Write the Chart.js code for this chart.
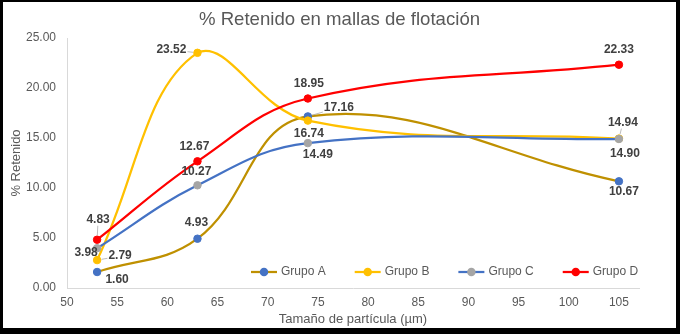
<!DOCTYPE html>
<html>
<head>
<meta charset="utf-8">
<script src="https://cdn.jsdelivr.net/npm/chart.js@4"></script>
<style>
  html, body { margin: 0; padding: 0; background: #000; }
  #marco { position: absolute; left: 3px; top: 2px; width: 673px; height: 326px; background: #fff; }
</style>
</head>
<body>
<div id="marco"><canvas id="grafico" width="673" height="326"></canvas></div>
<script>
// Datos
const tamanos = [53, 63, 74, 105];
const grupoA = [1.60, 4.93, 17.16, 10.67];
const grupoB = [2.79, 23.52, 16.74, 14.94];
const grupoC = [3.98, 10.27, 14.49, 14.90];
const grupoD = [4.83, 12.67, 18.95, 22.33];
const nombres = ['Grupo A', 'Grupo B', 'Grupo C', 'Grupo D'];
const ticksX = [50, 55, 60, 65, 70, 75, 80, 85, 90, 95, 100, 105];
const ticksY = [0, 5, 10, 15, 20, 25];

// estilos por serie (linea, marcador)
const colLinea = ['#BF9000', '#FFC000', '#4472C4', '#FF0000'];
const colMarca = ['#4472C4', '#FFC000', '#A5A5A5', '#FF0000'];

// desplazamiento de las etiquetas respecto al punto (px) y lineas guia
const despl = [
  [[20, 8], [-1, -16], [31, -9], [5, 10]],
  [[23, -4], [-26, -3], [1, 13], [4, -16]],
  [[-11, 4], [-1, -14], [10, 12], [6, 15]],
  [[1, -20], [-3, -15], [1, -15], [0, -15]]
];
const guias = [
  [0, 0, 1, 0],
  [1, 1, 0, 1],
  [0, 0, 0, 0],
  [1, 0, 0, 0]
];

const series = [grupoA, grupoB, grupoC, grupoD];
const fuente = "'Liberation Sans', Arial, sans-serif";
Chart.defaults.font.family = fuente;
Chart.defaults.color = '#595959';

const datasets = series.map((vals, i) => ({
  label: nombres[i],
  data: vals.map((v, j) => ({ x: tamanos[j], y: v })),
  borderColor: colLinea[i],
  backgroundColor: colMarca[i],
  pointBackgroundColor: colMarca[i],
  pointBorderColor: colMarca[i],
  pointBorderWidth: 1,
  pointRadius: 3.75,
  borderWidth: 2.25,
  tension: 0.4,
  fill: false,
  order: 4 - i
}));

const etiquetas = {
  id: 'etiquetas',
  afterDatasetsDraw(chart) {
    const ctx = chart.ctx;
    ctx.save();
    ctx.font = 'bold 12px ' + fuente;
    ctx.textAlign = 'center';
    ctx.textBaseline = 'middle';
    series.forEach((vals, i) => {
      const meta = chart.getDatasetMeta(i);
      meta.data.forEach((pt, j) => {
        const txt = vals[j].toFixed(2);
        const lx = pt.x + despl[i][j][0];
        const ly = pt.y + despl[i][j][1];
        if (guias[i][j]) {
          const w = ctx.measureText(txt).width / 2 + 1;
          const h = 6;
          const dx = lx - pt.x, dy = ly - pt.y;
          const len = Math.hypot(dx, dy);
          const s = Math.min(Math.abs(dx) > 0 ? w / Math.abs(dx) : 1e9, Math.abs(dy) > 0 ? h / Math.abs(dy) : 1e9);
          const ex = lx - dx * s, ey = ly - dy * s;
          const sx = pt.x + dx / len * 4.5, sy = pt.y + dy / len * 4.5;
          ctx.strokeStyle = '#A6A6A6';
          ctx.lineWidth = 0.75;
          ctx.beginPath();
          ctx.moveTo(sx, sy);
          ctx.lineTo(ex, ey);
          ctx.stroke();
        }
        ctx.fillStyle = '#404040';
        ctx.fillText(txt, lx, ly);
      });
    });
    ctx.restore();
  }
};

const leyenda = {
  id: 'leyenda',
  afterDraw(chart) {
    const ctx = chart.ctx;
    ctx.save();
    ctx.font = '12px ' + fuente;
    ctx.textBaseline = 'middle';
    ctx.textAlign = 'left';
    let x = 248;
    const y = 270;
    nombres.forEach((n, i) => {
      ctx.strokeStyle = colLinea[i];
      ctx.lineWidth = 2.25;
      ctx.beginPath();
      ctx.moveTo(x, y);
      ctx.lineTo(x + 26, y);
      ctx.stroke();
      ctx.fillStyle = colMarca[i];
      ctx.beginPath();
      ctx.arc(x + 13, y, 4.25, 0, Math.PI * 2);
      ctx.fill();
      ctx.fillStyle = '#595959';
      ctx.fillText(n, x + 30, y);
      x += 30 + ctx.measureText(n).width + 29;
    });
    ctx.restore();
  }
};

new Chart(document.getElementById('grafico'), {
  type: 'line',
  data: { datasets },
  plugins: [etiquetas, leyenda],
  options: {
    responsive: false,
    animation: false,
    layout: { padding: 0 },
    plugins: {
      legend: { display: false },
      tooltip: { enabled: false },
      title: {
        display: true,
        text: '% Retenido en mallas de flotación',
        color: '#595959',
        font: { size: 18.6, weight: 'normal' },
        padding: { top: 7, bottom: 6.7 }
      }
    },
    scales: {
      x: {
        type: 'linear',
        min: 50,
        max: 107,
        afterBuildTicks: s => { s.ticks = ticksX.map(v => ({ value: v })); },
        afterFit: s => { s.height = 40; },
        grid: { display: false, drawTicks: false },
        border: { display: true, color: '#D9D9D9', width: 1 },
        ticks: { padding: 7, font: { size: 12 }, color: '#595959' },
        title: {
          display: true,
          text: 'Tamaño de partícula (µm)',
          color: '#595959',
          font: { size: 13 },
          padding: { top: 0, bottom: 1 }
        }
      },
      y: {
        min: 0,
        max: 25,
        afterBuildTicks: s => { s.ticks = ticksY.map(v => ({ value: v })); },
        afterFit: s => { s.width = 64; },
        grid: { display: false, drawTicks: false },
        border: { display: true, color: '#D9D9D9', width: 1 },
        ticks: { padding: 11, font: { size: 12 }, color: '#595959', callback: v => v.toFixed(2) },
        title: {
          display: true,
          text: '% Retenido',
          color: '#595959',
          font: { size: 13 },
          padding: { top: 6, bottom: 0 }
        }
      },
      // margen derecho vacio
      derecha: {
        position: 'right',
        afterFit: s => { s.width = 37; },
        grid: { display: false, drawTicks: false },
        border: { display: false },
        ticks: { display: false }
      }
    }
  }
});
</script>
</body>
</html>
